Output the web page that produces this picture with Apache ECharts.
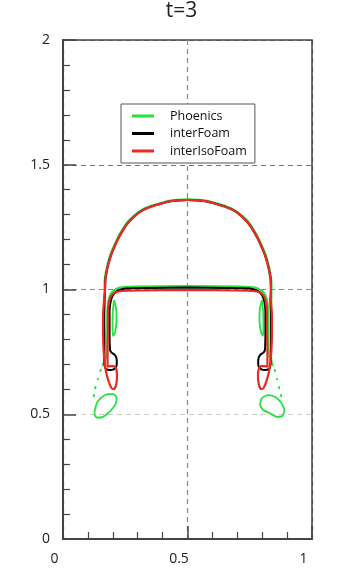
<!DOCTYPE html>
<html>
<head>
<meta charset="utf-8">
<script src="https://cdn.jsdelivr.net/npm/echarts@6/dist/echarts.min.js"></script>
<style>html,body{margin:0;padding:0;background:#fff}#c{width:363px;height:576px}</style>
</head>
<body>
<div id="c"></div>
<script>
// ---- data (x, y) ----
const titleText = 't=3';
const seriesNames = ['Phoenics', 'interFoam', 'interIsoFoam'];
const xTickLabels = [0, 0.5, 1];
const yTickLabels = [0, 0.5, 1, 1.5, 2];

// Phoenics (green)
const phoenicsMain = [
  [0.166,0.998],[0.167,1.039],[0.172,1.072],[0.180,1.107],[0.190,1.141],[0.204,1.175],[0.220,1.209],[0.238,1.241],
  [0.258,1.270],[0.283,1.295],[0.313,1.318],[0.352,1.335],[0.389,1.346],[0.421,1.355],[0.462,1.360],[0.502,1.362],
  [0.542,1.360],[0.583,1.355],[0.616,1.346],[0.652,1.335],[0.691,1.318],[0.721,1.295],[0.746,1.270],[0.766,1.241],
  [0.784,1.209],[0.800,1.175],[0.814,1.141],[0.824,1.107],[0.832,1.072],[0.837,1.039],[0.838,0.998],
  [0.837,0.958],[0.836,0.878],[0.835,0.798],[0.835,0.737],[0.839,0.709],
  [0.829,0.733],[0.825,0.798],[0.825,0.878],[0.823,0.938],[0.815,0.974],[0.799,0.994],[0.771,1.008],[0.711,1.012],
  [0.502,1.014],[0.289,1.012],[0.229,1.008],[0.201,0.994],[0.187,0.974],[0.179,0.938],[0.177,0.878],[0.177,0.798],
  [0.175,0.733],[0.165,0.709],[0.169,0.737],[0.169,0.798],[0.167,0.878],[0.167,0.958],[0.166,0.998]
];
const phoenicsLensLeft = [[0.205,0.958],[0.213,0.926],[0.215,0.878],[0.209,0.826],[0.201,0.814],[0.199,0.854],[0.200,0.910],[0.205,0.958]];
const phoenicsLensRight = [[0.799,0.958],[0.791,0.926],[0.789,0.878],[0.795,0.830],[0.803,0.814],[0.805,0.854],[0.804,0.910],[0.799,0.958]];
const phoenicsDrops = [
  [[0.163,0.709],[0.159,0.693]],[[0.153,0.681],[0.149,0.669]],[[0.141,0.645],[0.139,0.637]],[[0.131,0.613],[0.129,0.601]],[[0.125,0.581],[0.123,0.569]],
  [[0.839,0.709],[0.843,0.693]],[[0.849,0.681],[0.853,0.669]],[[0.859,0.645],[0.861,0.637]],[[0.867,0.613],[0.869,0.601]],[[0.875,0.581],[0.877,0.569]]
];
const phoenicsBlobLeft = [[0.127,0.513],[0.137,0.547],[0.155,0.567],[0.181,0.581],[0.203,0.581],[0.215,0.567],[0.213,0.545],[0.199,0.523],[0.177,0.501],[0.153,0.487],[0.135,0.487],[0.127,0.499],[0.127,0.513]];
const phoenicsBlobRight = [[0.791,0.537],[0.798,0.564],[0.825,0.577],[0.851,0.570],[0.878,0.544],[0.889,0.517],[0.881,0.493],[0.858,0.490],[0.831,0.504],[0.804,0.517],[0.791,0.537]];

// interFoam (black)
const interFoamMain = [
  [0.169,0.998],[0.170,1.038],[0.175,1.070],[0.183,1.105],[0.193,1.138],[0.207,1.172],[0.223,1.206],[0.241,1.238],
  [0.261,1.267],[0.285,1.292],[0.315,1.315],[0.353,1.332],[0.390,1.343],[0.422,1.352],[0.462,1.357],[0.502,1.359],
  [0.542,1.357],[0.582,1.352],[0.615,1.343],[0.651,1.332],[0.689,1.315],[0.719,1.292],[0.743,1.267],[0.763,1.238],
  [0.781,1.206],[0.797,1.172],[0.811,1.138],[0.821,1.105],[0.829,1.070],[0.834,1.038],[0.835,0.998],
  [0.833,0.958],[0.835,0.898],[0.835,0.818],[0.835,0.758],[0.833,0.697],[0.827,0.681],[0.811,0.677],[0.795,0.681],
  [0.785,0.693],[0.784,0.717],[0.791,0.737],[0.805,0.747],[0.811,0.758],[0.813,0.838],[0.813,0.910],[0.809,0.950],
  [0.799,0.978],[0.779,0.996],[0.747,1.004],[0.651,1.006],[0.502,1.008],[0.349,1.006],[0.253,1.004],[0.221,0.996],
  [0.201,0.978],[0.191,0.950],[0.187,0.910],[0.187,0.838],[0.189,0.758],[0.195,0.747],[0.209,0.737],[0.216,0.717],
  [0.215,0.693],[0.205,0.681],[0.189,0.677],[0.173,0.681],[0.167,0.697],[0.165,0.758],[0.165,0.818],[0.165,0.898],
  [0.167,0.958],[0.169,0.998]
];

// interIsoFoam (red)
const interIsoFoamMain = [
  [0.169,0.998],[0.170,1.038],[0.175,1.070],[0.183,1.105],[0.193,1.138],[0.207,1.172],[0.223,1.206],[0.241,1.238],
  [0.261,1.267],[0.285,1.292],[0.315,1.315],[0.353,1.332],[0.390,1.343],[0.422,1.352],[0.462,1.357],[0.502,1.359],
  [0.542,1.357],[0.582,1.352],[0.615,1.343],[0.651,1.332],[0.689,1.315],[0.719,1.292],[0.743,1.267],[0.763,1.238],
  [0.781,1.206],[0.797,1.172],[0.811,1.138],[0.821,1.105],[0.829,1.070],[0.834,1.038],[0.835,0.998],
  [0.835,0.958],[0.839,0.898],[0.839,0.818],[0.837,0.758],[0.833,0.709],[0.827,0.669],[0.817,0.633],[0.805,0.605],
  [0.795,0.601],[0.786,0.621],[0.783,0.653],[0.786,0.681],[0.795,0.693],[0.811,0.693],[0.821,0.691],[0.821,0.758],
  [0.819,0.838],[0.819,0.910],[0.815,0.950],[0.807,0.974],[0.791,0.988],[0.763,0.994],[0.695,0.996],[0.502,0.998],
  [0.309,0.996],[0.237,0.994],[0.209,0.988],[0.193,0.974],[0.185,0.950],[0.181,0.910],[0.181,0.838],[0.179,0.758],
  [0.179,0.691],[0.189,0.693],[0.205,0.693],[0.214,0.681],[0.217,0.653],[0.214,0.621],[0.205,0.601],[0.195,0.605],
  [0.183,0.633],[0.173,0.669],[0.167,0.709],[0.163,0.758],[0.161,0.818],[0.161,0.898],[0.165,0.958],[0.169,0.998]
];

// ---- build ----
const GAP = ['-', '-'];
function join(parts) {
  const out = [];
  parts.forEach((p, i) => { if (i) out.push(GAP); p.forEach(pt => out.push(pt)); });
  return out;
}
const phoenicsData = join([phoenicsMain, phoenicsLensLeft, phoenicsLensRight, ...phoenicsDrops, phoenicsBlobLeft, phoenicsBlobRight]);
const interFoamData = join([interFoamMain]);
const interIsoFoamData = join([interIsoFoamMain]);

const FONT = 'Open Sans';
const axisCol = '#444';

const chart = echarts.init(document.getElementById('c'), null, { renderer: 'canvas' });
chart.setOption({
  animation: false,
  backgroundColor: '#fff',
  title: {
    text: titleText, left: 'center', top: 1, padding: 0,
    textStyle: { fontFamily: FONT, fontSize: 21, fontWeight: 'normal', color: '#222' }
  },
  grid: { left: 63, right: 51, top: 40, bottom: 37, show: true, borderColor: axisCol, borderWidth: 1.5, backgroundColor: 'transparent' },
  legend: {
    data: seriesNames,
    orient: 'vertical', left: 121, top: 104,
    padding: [5, 8, 5, 11],
    itemWidth: 22, itemHeight: 3, itemGap: 3.5,
    icon: 'rect',
    backgroundColor: '#fff', borderColor: '#555', borderWidth: 1,
    textStyle: { fontFamily: FONT, fontSize: 12.5, lineHeight: 14, color: '#111', padding: [0, 0, 0, 11] }
  },
  xAxis: {
    type: 'value', min: 0, max: 1, interval: 0.5,
    axisLine: { show: true, lineStyle: { color: axisCol, width: 2 } },
    axisTick: { show: true, inside: true, length: 13, lineStyle: { color: axisCol, width: 1.5 } },
    minorTick: { show: true, splitNumber: 5, length: 7, lineStyle: { color: axisCol, width: 1.2 } },
    splitLine: { show: true, lineStyle: { type: [5, 4], color: ['#555', '#8a8a8a', '#555'], width: 1.2 } },
    axisLabel: {
      fontFamily: FONT, fontSize: 14, color: '#222', margin: 13, padding: [0, 17, 0, 0],
      formatter: v => (xTickLabels.indexOf(v) >= 0 ? String(v) : '')
    }
  },
  yAxis: {
    type: 'value', min: 0, max: 2, interval: 0.5,
    axisLine: { show: true, lineStyle: { color: axisCol, width: 2 } },
    axisTick: { show: true, inside: true, length: 13, lineStyle: { color: axisCol, width: 1.5 } },
    minorTick: { show: true, splitNumber: 5, length: 7, lineStyle: { color: axisCol, width: 1.2 } },
    splitLine: { show: true, lineStyle: { type: [5, 4], color: ['#555', '#cacaca', '#8c8c8c', '#777', '#555'], width: 1.2 } },
    axisLabel: {
      fontFamily: FONT, fontSize: 14, color: '#222', margin: 13,
      formatter: v => (yTickLabels.indexOf(v) >= 0 ? String(v) : '')
    }
  },
  series: [
    { name: seriesNames[0], type: 'line', data: phoenicsData, showSymbol: false, symbol: 'none', smooth: 0.2,
      connectNulls: false, z: 2, lineStyle: { color: '#25e23f', width: 1.8 }, itemStyle: { color: '#25e23f' } },
    { name: seriesNames[1], type: 'line', data: interFoamData, showSymbol: false, symbol: 'none', smooth: 0.2,
      connectNulls: false, z: 3, lineStyle: { color: '#000', width: 2 }, itemStyle: { color: '#000' } },
    { name: seriesNames[2], type: 'line', data: interIsoFoamData, showSymbol: false, symbol: 'none', smooth: 0.2,
      connectNulls: false, z: 4, lineStyle: { color: '#ec2a22', width: 2.2 }, itemStyle: { color: '#ec2a22' } }
  ]
});
</script>
</body>
</html>
